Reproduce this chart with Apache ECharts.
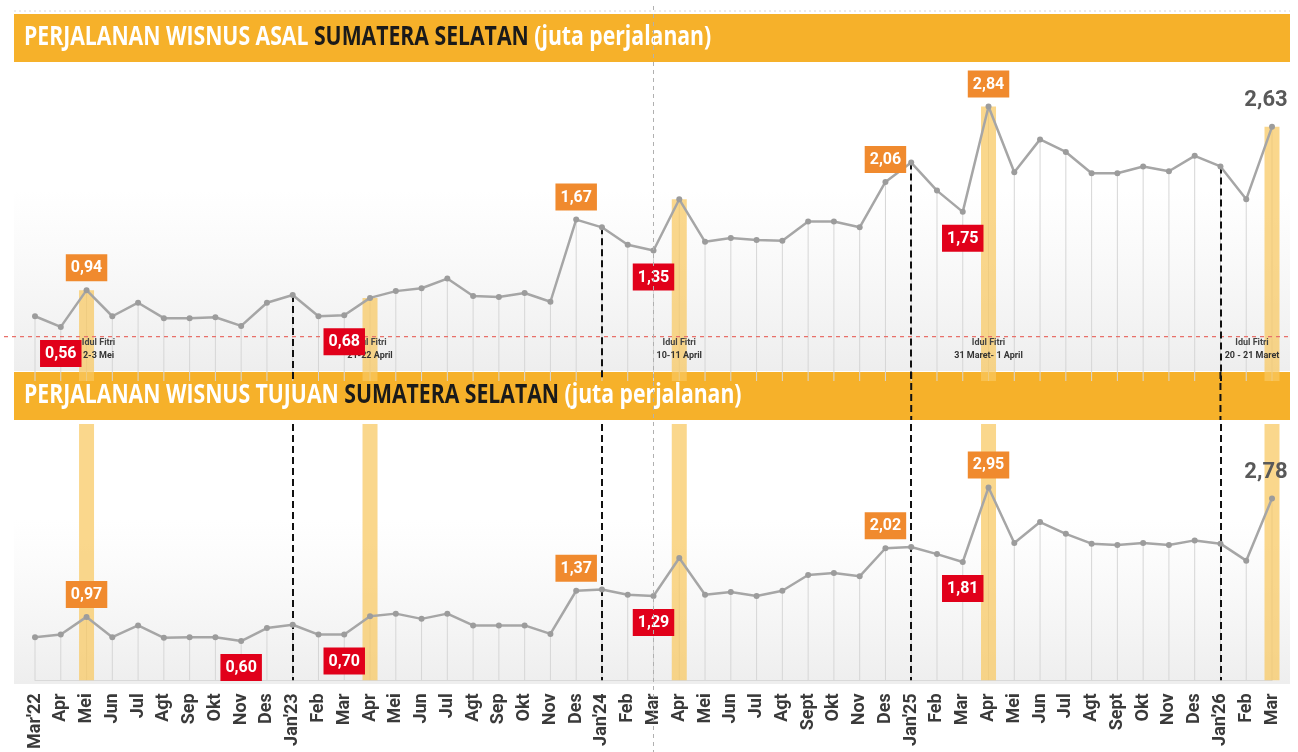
<!DOCTYPE html>
<html><head><meta charset="utf-8">
<script src="https://cdn.jsdelivr.net/npm/echarts@6/dist/echarts.min.js"></script>
<style>html,body{margin:0;padding:0;background:#fff}#c{width:1298px;height:752px}</style>
</head><body><div id="c"></div>
<script>
// ---------- DATA ----------
const months = ["Mar'22","Apr","Mei","Jun","Jul","Agt","Sep","Okt","Nov","Des","Jan'23","Feb","Mar","Apr","Mei","Jun","Jul","Agt","Sep","Okt","Nov","Des","Jan'24","Feb","Mar","Apr","Mei","Jun","Jul","Agt","Sept","Okt","Nov","Des","Jan'25","Feb","Mar","Apr","Mei","Jun","Jul","Agt","Sept","Okt","Nov","Des","Jan'26","Feb","Mar"];
const asalValues = [0.67,0.56,0.94,0.67,0.81,0.65,0.65,0.66,0.57,0.81, 0.89,0.67,0.68,0.86,0.93,0.96,1.06,0.88,0.87,0.91, 0.82,1.67,1.59,1.41,1.35,1.88,1.44,1.48,1.46,1.45, 1.65,1.65,1.59,2.06,2.26,1.97,1.75,2.84,2.16,2.50, 2.37,2.15,2.15,2.22,2.17,2.33,2.22,1.88,2.63];
const tujuanValues = [0.66,0.70,0.97,0.66,0.84,0.65,0.66,0.66,0.60,0.80, 0.85,0.70,0.70,0.98,1.02,0.94,1.02,0.84,0.84,0.84, 0.71,1.37,1.39,1.31,1.29,1.87,1.31,1.35,1.29,1.37, 1.61,1.64,1.59,2.02,2.04,1.93,1.81,2.95,2.10,2.42, 2.24,2.09,2.07,2.10,2.07,2.14,2.09,1.83,2.78];
const asalHighIdx = [2,21,33,37];
const asalLowIdx = [1,12,24,36];
const tujuanHighIdx = [2,21,33,37];
const tujuanLowIdx = [8,12,24,36];
const lastIdx = 48;
const idulFitriIdx = [2,13,25,37,48];
const idulFitriDates = ['2-3 Mei','21-22 April','10-11 April','31 Maret- 1 April','20 - 21 Maret'];
const yearStartIdx = [10,22,34,46];
const cursorIdx = 24;
const asalRefLine = 0.46;
const title1 = ['PERJALANAN WISNUS ASAL ','SUMATERA SELATAN',' (juta perjalanan)'];
const title2 = ['PERJALANAN WISNUS TUJUAN ','SUMATERA SELATAN',' (juta perjalanan)'];

// ---------- STYLE ----------
const FONT = "'Liberation Sans Narrow','Roboto',sans-serif";
const ORANGE = '#F08A2E', RED = '#E1001A', LINEC = '#A6A6A6', HEAD = '#F6B12A', BARC = 'rgba(248,200,95,0.72)';
const TOP_MAX = 3.28, BOT_MAX = 3.92;
const fmt = v => v.toFixed(2).replace('.', ',');

function lineData(values, highs, lows) {
  return values.map((v, i) => {
    const base = {show:true, color:'#fff', fontSize:16, fontWeight:'bold', fontFamily:FONT, padding:[6,5,5,5], formatter: p => fmt(p.value)};
    if (highs.includes(i)) return {value:v, label:Object.assign({}, base, {position:'top', distance:6, backgroundColor:ORANGE})};
    if (lows.includes(i)) return {value:v, label:Object.assign({}, base, {position:'bottom', distance:10, backgroundColor:RED})};
    if (i === lastIdx) return {value:v, label:{show:true, position:'top', distance:10, offset:[-6,-2], color:'#595959', fontSize:22, fontWeight:'bold', fontFamily:FONT, formatter: p => fmt(p.value)}};
    return v;
  });
}
function fitriBars(valFn, withLabel) {
  return months.map((m, i) => {
    const k = idulFitriIdx.indexOf(i);
    if (k < 0) return '-';
    const item = {value: valFn(i)};
    if (withLabel) {
      const off = k === 0 ? [12,0] : (k === idulFitriIdx.length - 1 ? [-20,0] : [0,0]);
      item.label = {offset: off};
    }
    return item;
  });
}
function yearLines(values, topFn) {
  return yearStartIdx.map(i => [{coord:[i, topFn(i)]}, {coord:[i, 0]}]);
}
const hiddenX = (gi) => ({type:'category', gridIndex:gi, data:months, boundaryGap:false, show:false});

const option = {
  animation:false,
  backgroundColor:'#fff',
  grid:[
    {left:35, right:26, top:64, height:317},
    {left:35, right:26, top:424, height:259}
  ],
  xAxis:[
    hiddenX(0), hiddenX(0),
    {type:'category', gridIndex:1, data:months, boundaryGap:false,
     axisLine:{show:true, lineStyle:{color:'#D9D9D9'}}, axisTick:{show:false},
     axisLabel:{rotate:90, interval:0, margin:13, color:'#3A3A3A', fontSize:18, fontWeight:'bold', fontFamily:FONT}},
    hiddenX(1)
  ],
  yAxis:[
    {type:'value', gridIndex:0, min:0, max:TOP_MAX, show:false},
    {type:'value', gridIndex:1, min:0, max:BOT_MAX, show:false}
  ],
  series:[
    {type:'bar', xAxisIndex:0, yAxisIndex:0, barWidth:1, data:asalValues, itemStyle:{color:'#D6D6D6'}, silent:true, z:1},
    {type:'bar', xAxisIndex:1, yAxisIndex:0, barWidth:15, clip:false, data:fitriBars(i => asalValues[i], true), itemStyle:{color:BARC}, silent:true, z:2,
     label:{show:true, position:'insideBottom', distance:19, formatter: p => '{a|Idul Fitri}\n{b|' + idulFitriDates[idulFitriIdx.indexOf(p.dataIndex)] + '}',
       rich:{a:{fontSize:9, fontWeight:'bold', color:'#444', lineHeight:13, fontFamily:FONT}, b:{fontSize:9, fontWeight:'bold', color:'#333', lineHeight:13, fontFamily:FONT}}}},
    {type:'line', xAxisIndex:0, yAxisIndex:0, data:lineData(asalValues, asalHighIdx, asalLowIdx), z:5,
     lineStyle:{color:LINEC, width:2.5}, itemStyle:{color:'#9C9C9C'}, symbol:'circle', symbolSize:6,
     markLine:{silent:true, symbol:'none', label:{show:false}, lineStyle:{color:'#111', type:[7,4], width:2}, data:yearLines(asalValues, i => asalValues[i])}},

    {type:'bar', xAxisIndex:2, yAxisIndex:1, barWidth:1, data:tujuanValues, itemStyle:{color:'#D6D6D6'}, silent:true, z:1},
    {type:'bar', xAxisIndex:3, yAxisIndex:1, barWidth:15, clip:false, data:fitriBars(i => BOT_MAX, false), itemStyle:{color:BARC}, silent:true, z:2},
    {type:'line', xAxisIndex:2, yAxisIndex:1, data:lineData(tujuanValues, tujuanHighIdx, tujuanLowIdx), z:5,
     lineStyle:{color:LINEC, width:2.5}, itemStyle:{color:'#9C9C9C'}, symbol:'circle', symbolSize:6,
     markLine:{silent:true, symbol:'none', label:{show:false}, lineStyle:{color:'#111', type:[7,4], width:2}, data:yearLines(tujuanValues, i => BOT_MAX)}}
  ]
};

const chart = echarts.init(document.getElementById('c'));
chart.setOption(option);

function header(id, y, parts) {
  return {type:'group', id:id, z:100, children:[
    {type:'rect', shape:{x:14, y:y, width:1276, height:48}, style:{fill:HEAD}},
    {type:'text', x:24, y:y+24, scaleX:0.815, style:{
      text:'{w|' + parts[0] + '}{b|' + parts[1] + '}{w|' + parts[2] + '}',
      verticalAlign:'middle', align:'left',
      rich:{w:{fill:'#fff', fontSize:26, fontWeight:'bold', fontFamily:"'Open Sans',sans-serif"},
            b:{fill:'#1a1a1a', fontSize:26, fontWeight:'bold', fontFamily:"'Open Sans',sans-serif"}}
    }}
  ]};
}
const xCur = chart.convertToPixel({xAxisIndex:0}, cursorIdx);
const yRef = chart.convertToPixel({yAxisIndex:0}, asalRefLine);
const gfx = [
  {type:'rect', z:-10, shape:{x:14, y:190, width:1276, height:181}, style:{fill:new echarts.graphic.LinearGradient(0,0,0,1,[{offset:0,color:'rgba(240,240,240,0)'},{offset:1,color:'rgba(236,236,236,0.9)'}])}, silent:true},
  {type:'rect', z:-10, shape:{x:14, y:520, width:1276, height:164}, style:{fill:new echarts.graphic.LinearGradient(0,0,0,1,[{offset:0,color:'rgba(240,240,240,0)'},{offset:1,color:'rgba(236,236,236,0.9)'}])}, silent:true},
  {type:'line', z:3, shape:{x1:4, y1:yRef, x2:1292, y2:yRef}, style:{stroke:'#E8706A', lineWidth:1.2, lineDash:[4,4]}, silent:true},
  header('h1', 14, title1),
  header('h2', 372, title2),
  {type:'line', z:150, shape:{x1:xCur, y1:6, x2:xCur, y2:752}, style:{stroke:'#B0B0B0', lineWidth:1, lineDash:[4,4]}, silent:true},
  {type:'line', z:150, shape:{x1:14, y1:11, x2:1290, y2:11}, style:{stroke:'#D8D8D8', lineWidth:1, lineDash:[2,3]}, silent:true}
];
yearStartIdx.slice(2).forEach((i) => {
  const x = chart.convertToPixel({xAxisIndex:0}, i);
  gfx.push({type:'line', z:150, shape:{x1:x, y1:372, x2:x, y2:420}, style:{stroke:'#111', lineWidth:2, lineDash:[7,4]}, silent:true});
});
chart.setOption({graphic:gfx});
</script>
</body></html>
